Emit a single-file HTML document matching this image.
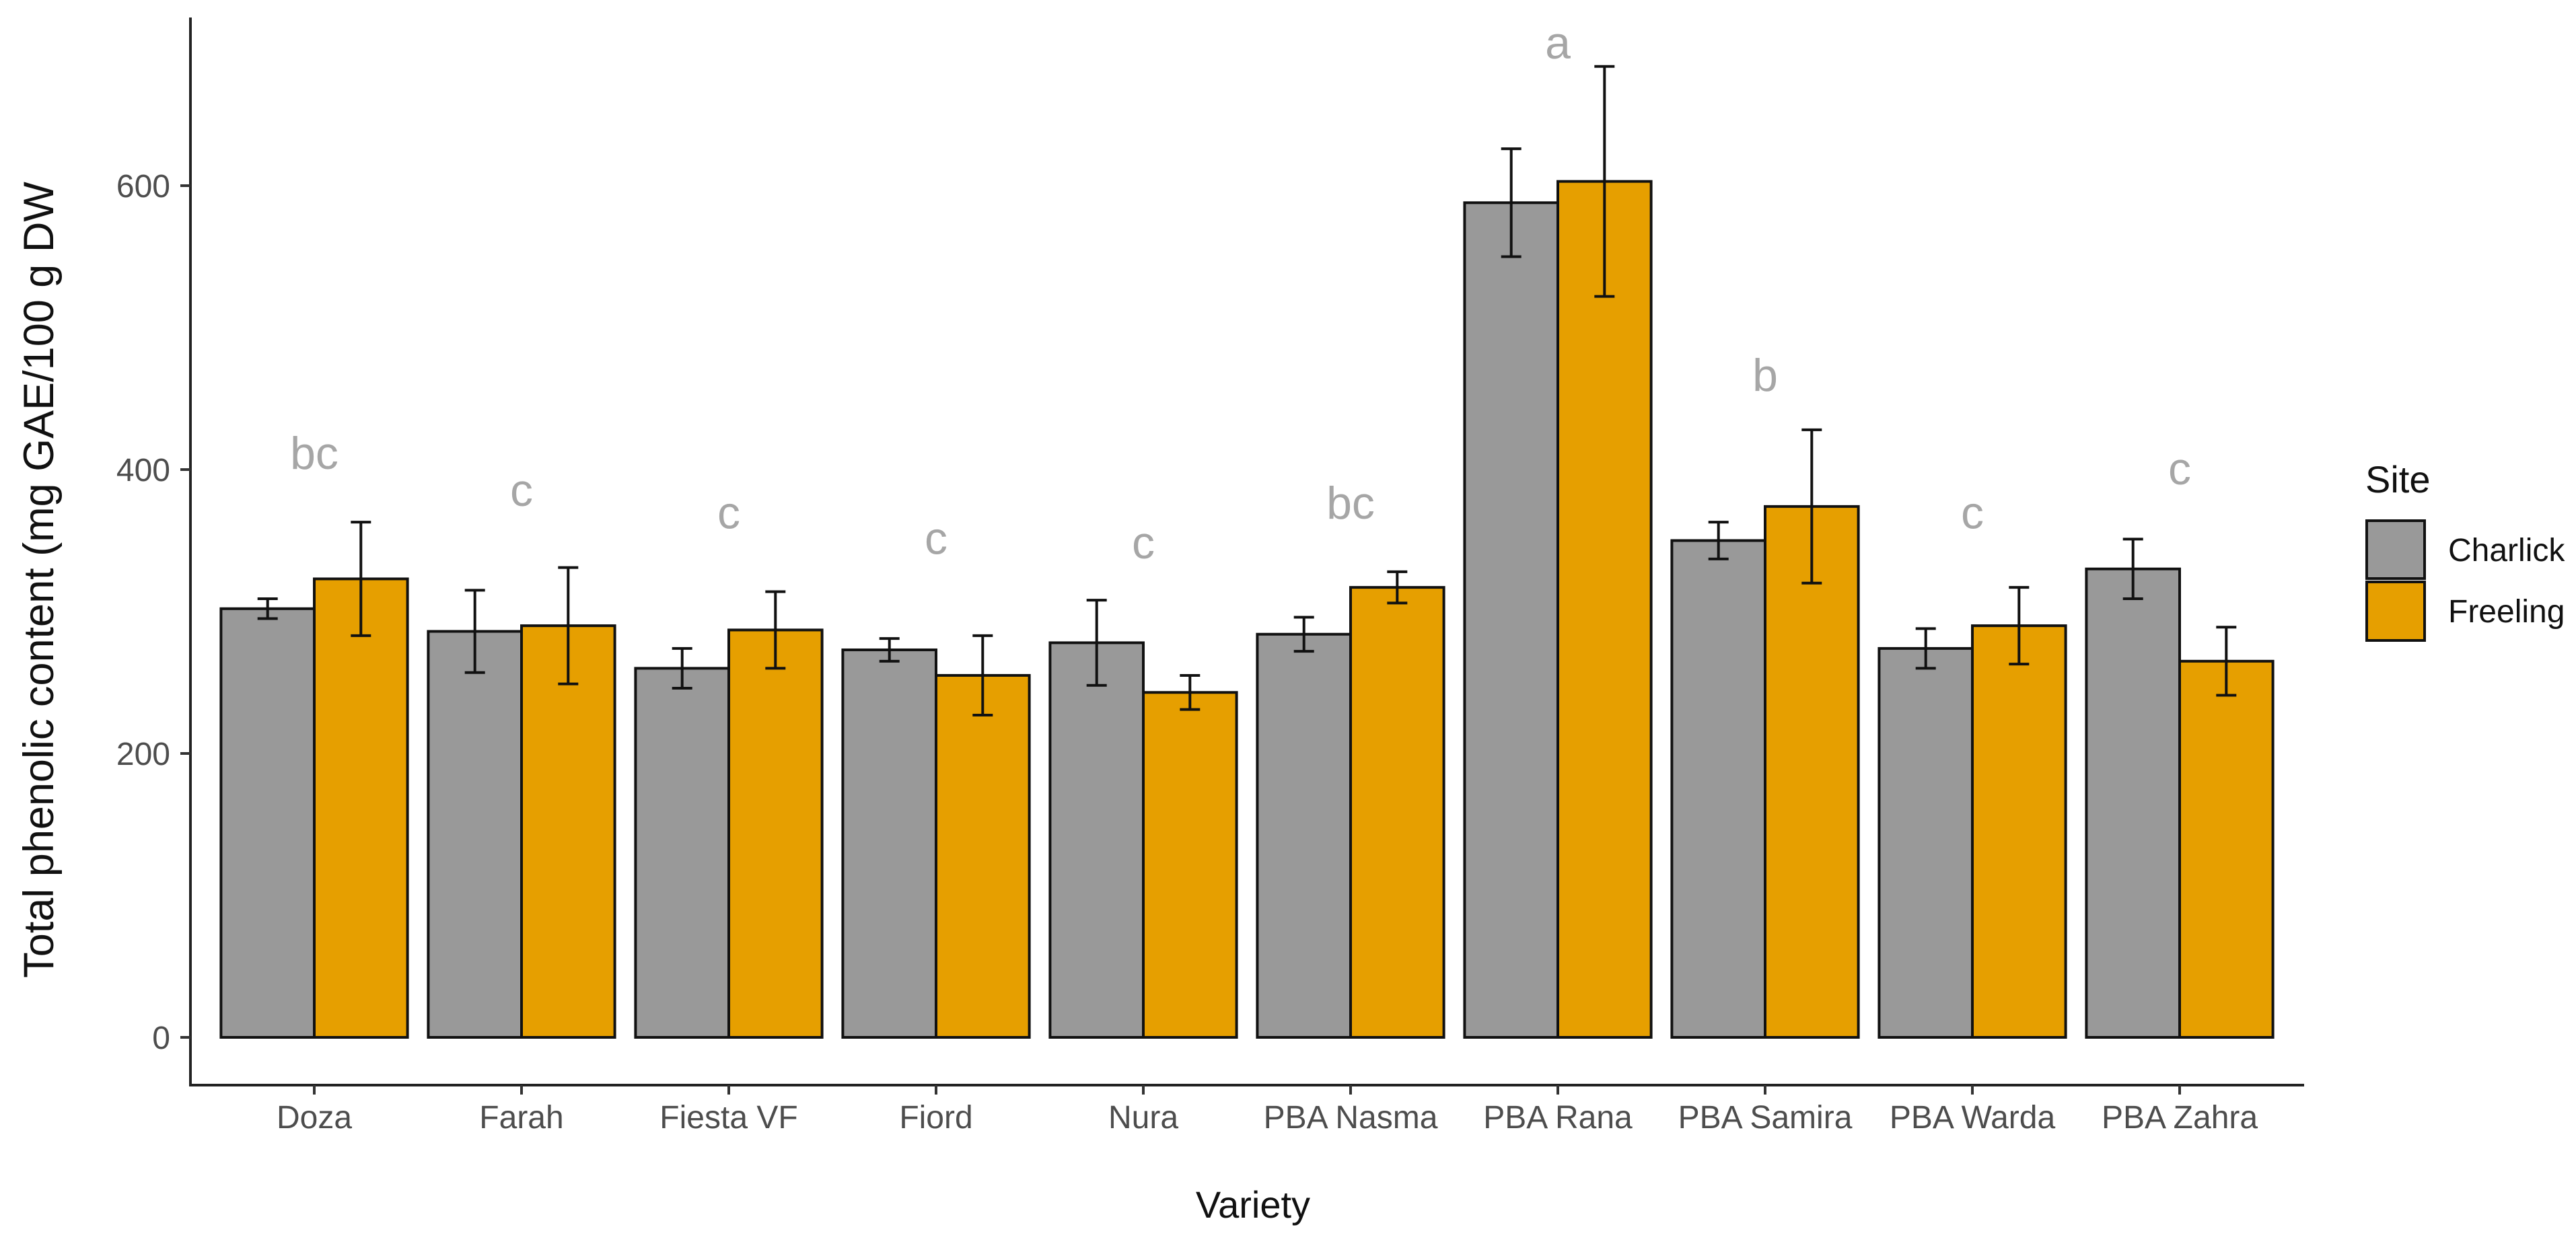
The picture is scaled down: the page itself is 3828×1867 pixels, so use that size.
<!DOCTYPE html>
<html><head><meta charset="utf-8"><style>
html,body{margin:0;padding:0;background:#fff;}
svg{display:block;font-family:"Liberation Sans",Arial,sans-serif;}
</style></head><body>
<svg id="chart" width="3828" height="1867" viewBox="0 0 3828 1867" xmlns="http://www.w3.org/2000/svg">
<g id="plot"></g>
</svg>
<script>
const categories = ["Doza","Farah","Fiesta VF","Fiord","Nura","PBA Nasma","PBA Rana","PBA Samira","PBA Warda","PBA Zahra"];
const charlickMean = [302,286,260,273,278,284,588,350,274,330];
const charlickErr  = [7,29,14,8,30,12,38,13,14,21];
const freelingMean = [323,290,287,255,243,317,603,374,290,265];
const freelingErr  = [40,41,27,28,12,11,81,54,27,24];
const sigLetters = ["bc","c","c","c","c","bc","a","b","c","c"];
const sigValues  = [409,383,367,349,346,374,698,464,367,398];
const yTicks = [0,200,400,600];

const NS="http://www.w3.org/2000/svg";
const g=document.getElementById('plot');
const X0=467, STEP=308, Y0=1542, YPER=(1542-276)/600;
function xc(i){return X0+i*STEP;}
function yv(v){return Y0-v*YPER;}
const BW=STEP*0.9/2;
function el(tag,attrs,parent){const e=document.createElementNS(NS,tag);for(const k in attrs)e.setAttribute(k,attrs[k]);(parent||g).appendChild(e);return e;}

const yAxis=el('line',{x1:283,y1:26,x2:283,y2:1615,stroke:'#222','stroke-width':4});


const xAxis=el('line',{x1:281,y1:1613,x2:3424,y2:1613,stroke:'#222','stroke-width':4});



yTicks.forEach(t=>{
  const tk=el('line',{x1:268,y1:yv(t),x2:283,y2:yv(t),stroke:'#333','stroke-width':4});
  
  
  const tl=el('text',{x:253,y:yv(t)+17,'text-anchor':'end','font-size':48,fill:'#4d4d4d'});
  tl.textContent=t;
  
  
});

function bar(x,v,fill,name){
  const r=el('rect',{x:x,y:yv(v),width:BW,height:Y0-yv(v),fill:fill,stroke:'#111','stroke-width':4});
  
  
}
function err(cx,m,e,name){
  const gg=el('g',{stroke:'#111','stroke-width':4});
  
  
  el('line',{x1:cx,y1:yv(m+e),x2:cx,y2:yv(m-e)},gg);
  el('line',{x1:cx-15,y1:yv(m+e),x2:cx+15,y2:yv(m+e)},gg);
  el('line',{x1:cx-15,y1:yv(m-e),x2:cx+15,y2:yv(m-e)},gg);
}
categories.forEach((c,i)=>{
  const cx=xc(i);
  bar(cx-BW,charlickMean[i],'#999999','bar-charlick');
  bar(cx,freelingMean[i],'#E69F00','bar-freeling');
  err(cx-BW/2,charlickMean[i],charlickErr[i],'error-bar-charlick');
  err(cx+BW/2,freelingMean[i],freelingErr[i],'error-bar-freeling');
  const tk=el('line',{x1:cx,y1:1613,x2:cx,y2:1627,stroke:'#333','stroke-width':4});
  
  
  const tl=el('text',{x:cx,y:1677,'text-anchor':'middle','font-size':48,fill:'#4d4d4d'});
  tl.textContent=c;
  
  
  const sl=el('text',{x:cx,y:yv(sigValues[i])+18,'text-anchor':'middle','font-size':68,fill:'#a6a6a6'});
  sl.textContent=sigLetters[i];
  
  
});
</script>
<div style="position:absolute;left:0;top:0;width:3828px;height:1867px;pointer-events:none;">
<svg width="3828" height="1867" viewBox="0 0 3828 1867" xmlns="http://www.w3.org/2000/svg" style="font-family:'Liberation Sans',Arial,sans-serif;">
<text x="1862" y="1810" text-anchor="middle" font-size="56" fill="#111">Variety</text>
<text transform="translate(79,862) rotate(-90)" text-anchor="middle" font-size="63" fill="#111">Total phenolic content (mg GAE/100 g DW</text>
<g>
<text x="3515" y="732" font-size="56" fill="#111">Site</text>
<rect x="3517" y="774" width="86" height="86" fill="#999999" stroke="#111" stroke-width="4"/>
<rect x="3517" y="865" width="86" height="87" fill="#E69F00" stroke="#111" stroke-width="4"/>
<text x="3638" y="834" font-size="48" fill="#111">Charlick</text>
<text x="3638" y="925" font-size="48" fill="#111">Freeling</text>
</g>
</svg>
</div>
</body></html>
